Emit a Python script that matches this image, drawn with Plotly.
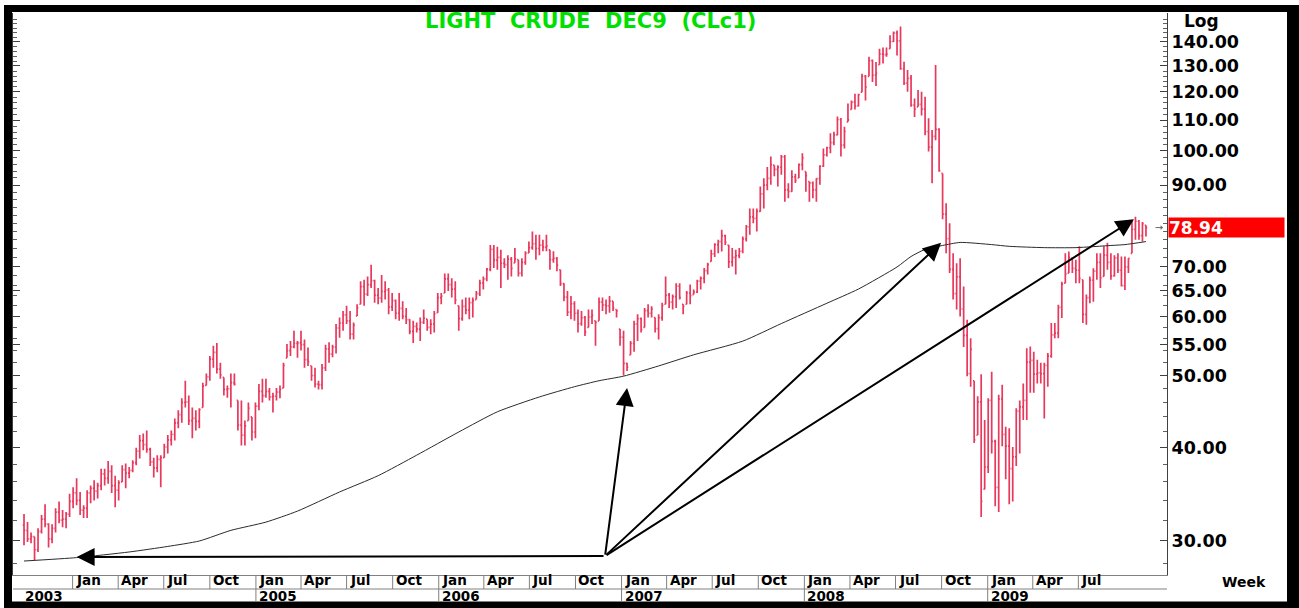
import math
import pandas as pd
import plotly.graph_objects as go

# ---------------- data (weekly bars) ----------------
first_week = "2003-09-26"
n_weeks = 321

opens = [
    31.5, 31.0, 30.2, 30.4, 29.2, 30.9, 32.1, 31.6, 30.2, 31.2,
    32.8, 32.0, 32.1, 32.6, 33.9, 34.8, 34.0, 33.0, 33.2, 34.8,
    35.3, 35.0, 35.6, 36.9, 36.4, 37.2, 35.6, 35.1, 36.0, 37.4,
    37.0, 37.3, 38.2, 39.6, 40.9, 40.4, 39.8, 38.3, 37.6, 38.6,
    38.8, 40.1, 41.0, 41.7, 43.2, 44.3, 46.0, 46.1, 43.5, 43.8,
    43.4, 45.3, 48.5, 49.8, 52.6, 53.7, 51.0, 49.7, 47.9, 48.0,
    48.9, 46.3, 42.9, 41.6, 43.5, 44.0, 42.0, 45.5, 47.6, 47.0,
    47.6, 46.8, 46.9, 47.5, 48.1, 52.8, 54.0, 54.6, 55.2, 55.3,
    55.0, 52.5, 51.5, 50.0, 48.7, 48.6, 51.2, 54.3, 53.4, 54.6,
    57.9, 58.8, 60.3, 59.2, 56.8, 60.1, 62.3, 65.8, 64.3, 66.2,
    67.0, 64.1, 63.5, 64.8, 65.1, 61.8, 63.0, 60.6, 61.5, 60.0,
    59.4, 57.3, 58.2, 57.7, 58.9, 59.5, 58.0, 58.6, 60.7, 63.6,
    64.5, 67.4, 66.2, 65.3, 62.0, 59.6, 61.9, 61.2, 62.6, 63.2,
    64.4, 66.5, 67.4, 69.4, 73.8, 71.4, 72.0, 70.7, 70.4, 71.6,
    70.8, 71.5, 68.6, 70.9, 73.0, 74.2, 75.1, 74.0, 74.8, 74.3,
    73.7, 71.5, 71.8, 69.3, 66.4, 63.7, 60.8, 62.4, 60.6, 58.7,
    59.8, 58.0, 59.9, 59.2, 59.2, 62.7, 62.2, 62.0, 62.9, 61.3,
    57.7, 56.3, 51.9, 53.3, 55.2, 58.6, 59.6, 58.0, 61.1, 60.6,
    59.8, 57.8, 59.8, 62.3, 64.1, 62.7, 63.8, 65.9, 62.3, 62.3,
    64.5, 64.2, 64.7, 66.9, 67.5, 69.1, 71.1, 72.8, 74.9, 75.6,
    77.0, 74.8, 71.0, 72.0, 72.4, 73.4, 76.2, 79.1, 81.6, 81.2,
    83.0, 87.6, 90.0, 91.9, 95.7, 94.5, 95.1, 98.2, 88.7, 88.3,
    92.3, 92.0, 95.9, 93.8, 91.0, 90.6, 88.7, 91.8, 95.4, 98.8,
    101.0, 102.6, 105.1, 110.2, 101.8, 109.4, 113.7, 116.3, 114.9, 119.9,
    125.9, 125.9, 132.2, 126.4, 130.5, 134.9, 134.6, 137.1, 140.2, 143.9,
    140.5, 128.9, 123.3, 125.1, 115.2, 114.6, 115.5, 113.8, 106.2, 101.2,
    104.6, 106.9, 93.3, 82.3, 76.3, 69.4, 64.4, 67.8, 61.4, 56.6,
    50.3, 49.2, 41.6, 46.1, 35.2, 37.7, 46.3, 40.8, 35.4, 46.5,
    41.7, 40.2, 37.5, 38.9, 44.8, 45.4, 46.3, 52.1, 52.4, 50.2,
    50.4, 50.3, 51.6, 53.1, 56.7, 57.0, 61.7, 66.5, 68.6, 71.8,
    69.6, 69.2, 67.2, 60.4, 63.6, 67.1, 69.0, 70.9, 67.9, 72.5,
    70.9, 68.0, 71.9, 69.2, 66.0, 69.9, 72.9, 78.5, 80.5, 77.0,
    79.5,
]

highs = [
    32.6, 31.8, 30.8, 30.4, 31.2, 32.5, 33.6, 31.7, 31.6, 33.2,
    33.9, 33.0, 32.8, 34.7, 35.4, 36.4, 34.9, 33.5, 35.1, 35.6,
    36.2, 35.9, 37.5, 37.5, 38.4, 37.9, 36.7, 36.2, 37.9, 38.1,
    37.7, 38.5, 40.0, 41.6, 41.8, 42.2, 40.0, 38.8, 39.1, 39.1,
    40.5, 41.6, 42.2, 43.8, 44.9, 46.6, 49.2, 47.0, 45.3, 44.9,
    45.2, 48.9, 50.3, 53.1, 54.8, 55.3, 52.0, 49.7, 48.5, 50.3,
    50.3, 46.3, 46.3, 43.5, 46.0, 44.0, 46.0, 48.7, 49.5, 49.5,
    48.1, 47.4, 48.1, 48.5, 52.0, 55.1, 55.6, 57.4, 55.6, 57.4,
    55.9, 54.5, 51.5, 51.2, 49.2, 51.8, 55.0, 55.4, 55.0, 58.6,
    59.8, 61.0, 62.0, 61.0, 58.9, 62.3, 66.9, 67.2, 67.9, 70.4,
    67.2, 65.5, 68.2, 66.9, 65.5, 64.5, 63.2, 64.5, 62.9, 61.6,
    59.5, 59.2, 58.9, 59.8, 61.3, 59.5, 59.5, 61.0, 64.5, 64.5,
    68.5, 68.5, 67.5, 66.9, 62.0, 63.2, 63.6, 63.6, 63.6, 64.9,
    67.2, 67.9, 69.7, 74.8, 74.8, 74.4, 73.7, 71.8, 72.5, 72.1,
    74.1, 71.5, 71.8, 73.4, 75.6, 78.0, 77.2, 77.2, 76.0, 77.2,
    73.7, 73.4, 72.1, 69.3, 66.5, 64.9, 63.9, 62.9, 61.3, 61.0,
    60.1, 61.3, 61.3, 59.2, 63.6, 63.6, 63.2, 63.9, 62.9, 61.3,
    57.7, 57.4, 52.0, 55.6, 59.2, 60.4, 59.8, 61.6, 62.3, 61.9,
    59.8, 60.4, 62.6, 67.9, 64.5, 64.2, 66.5, 66.5, 62.3, 64.9,
    66.2, 65.2, 67.2, 67.9, 69.7, 70.8, 73.7, 75.2, 76.0, 78.4,
    77.2, 74.8, 74.1, 73.7, 74.1, 76.8, 79.6, 83.7, 83.7, 83.7,
    89.6, 91.9, 95.2, 98.3, 95.7, 95.7, 98.8, 98.8, 90.5, 94.2,
    93.2, 96.2, 99.3, 93.8, 91.0, 91.0, 91.9, 95.7, 100.8, 101.3,
    105.6, 106.1, 111.2, 110.7, 107.8, 115.8, 116.9, 119.3, 119.3, 126.9,
    126.4, 133.8, 132.6, 131.6, 137.1, 137.6, 137.6, 142.9, 144.6, 145.1,
    146.8, 131.7, 128.4, 126.4, 117.6, 120.7, 120.1, 118.2, 110.6, 106.7,
    130.4, 107.3, 93.3, 85.1, 80.0, 72.9, 70.7, 71.8, 65.8, 59.4,
    56.1, 49.2, 46.9, 50.2, 43.6, 46.6, 50.6, 41.0, 47.1, 48.6,
    42.7, 42.5, 40.1, 45.2, 46.3, 48.8, 54.4, 54.7, 53.8, 52.5,
    52.0, 52.0, 53.6, 58.8, 58.8, 62.2, 66.8, 72.9, 73.3, 71.8,
    71.5, 74.5, 67.2, 64.2, 67.9, 69.6, 72.9, 72.9, 74.5, 75.3,
    72.9, 72.5, 72.9, 72.2, 72.2, 71.8, 80.8, 81.6, 80.8, 80.3,
    79.5,
]

lows = [
    29.6, 29.9, 29.8, 28.3, 29.0, 30.7, 31.3, 29.4, 29.8, 30.8,
    31.7, 31.3, 31.2, 32.3, 33.2, 33.5, 32.5, 32.2, 32.2, 33.7,
    34.0, 34.2, 35.1, 35.6, 35.8, 34.8, 33.3, 34.0, 36.0, 35.3,
    36.4, 37.1, 37.9, 38.7, 39.7, 39.4, 37.8, 36.5, 37.1, 35.4,
    38.8, 39.3, 40.3, 40.9, 42.5, 43.2, 45.3, 42.9, 41.2, 42.2,
    42.5, 45.3, 48.5, 49.2, 51.2, 50.3, 49.5, 47.0, 46.7, 45.3,
    48.5, 42.2, 40.3, 40.3, 43.5, 40.9, 41.2, 44.9, 46.0, 46.7,
    46.3, 44.6, 46.3, 46.6, 48.1, 52.8, 53.1, 54.4, 52.8, 54.0,
    51.2, 51.5, 49.2, 48.2, 47.9, 47.9, 50.7, 52.0, 52.9, 53.5,
    56.2, 57.4, 58.6, 55.9, 55.9, 60.1, 62.3, 62.0, 63.9, 65.5,
    62.6, 62.3, 62.6, 63.2, 60.4, 61.0, 59.5, 59.2, 59.5, 58.6,
    56.8, 55.3, 57.1, 55.6, 58.6, 57.4, 56.8, 57.1, 60.7, 62.3,
    64.5, 64.9, 63.6, 62.3, 57.4, 59.2, 60.4, 59.5, 59.8, 63.2,
    63.9, 65.2, 66.9, 69.0, 69.7, 69.3, 65.5, 69.7, 67.2, 67.9,
    70.8, 67.9, 67.9, 70.4, 73.0, 73.7, 71.5, 72.5, 73.4, 73.4,
    69.3, 70.8, 69.0, 65.9, 62.9, 60.1, 59.5, 59.2, 57.1, 58.3,
    56.5, 58.0, 58.6, 54.8, 59.2, 61.0, 60.4, 60.7, 61.0, 59.8,
    54.8, 50.0, 50.7, 53.3, 53.8, 55.6, 57.1, 58.0, 59.8, 59.8,
    57.1, 55.9, 59.2, 62.3, 61.6, 61.3, 61.6, 63.2, 60.4, 62.3,
    62.3, 64.2, 64.5, 65.2, 66.5, 68.3, 71.1, 72.1, 72.9, 73.3,
    74.8, 69.7, 70.0, 68.3, 71.8, 72.9, 75.6, 77.2, 80.0, 78.0,
    82.9, 83.7, 88.6, 90.1, 92.5, 89.6, 92.9, 85.5, 86.4, 88.2,
    90.6, 92.0, 94.2, 88.2, 85.5, 86.4, 85.5, 90.1, 95.2, 98.3,
    99.3, 101.8, 105.0, 98.3, 100.8, 109.4, 113.7, 113.7, 114.7, 119.9,
    116.9, 125.9, 123.7, 122.2, 130.5, 131.0, 133.8, 137.1, 140.0, 134.3,
    128.5, 122.6, 120.1, 114.6, 111.1, 114.6, 111.6, 105.0, 99.8, 90.5,
    103.4, 93.8, 81.0, 72.9, 68.6, 63.2, 61.3, 60.0, 54.6, 49.9,
    48.3, 40.6, 41.6, 32.3, 35.2, 37.0, 39.3, 33.4, 32.8, 40.2,
    36.3, 33.6, 33.9, 37.8, 39.3, 43.6, 43.6, 47.4, 47.4, 48.8,
    48.8, 43.8, 48.3, 52.8, 56.1, 56.1, 59.7, 66.5, 68.6, 68.6,
    66.5, 66.5, 58.8, 58.5, 62.5, 62.8, 67.2, 65.5, 67.9, 69.3,
    67.2, 67.9, 68.6, 65.8, 65.1, 68.6, 72.9, 76.0, 76.0, 75.6,
    76.8,
]

closes = [
    31.0, 30.2, 30.4, 29.2, 30.9, 32.1, 31.6, 30.2, 31.2, 32.8,
    32.0, 32.1, 32.6, 33.9, 34.8, 34.0, 33.0, 33.2, 34.8, 35.3,
    35.0, 35.6, 36.9, 36.4, 37.2, 35.6, 35.1, 35.9, 37.4, 37.0,
    37.3, 38.2, 39.6, 40.9, 40.4, 39.8, 38.3, 37.6, 38.6, 38.8,
    40.1, 41.0, 41.7, 43.2, 44.3, 46.0, 46.1, 43.5, 43.8, 43.4,
    45.0, 48.4, 49.8, 52.6, 53.7, 51.0, 50.1, 47.9, 48.0, 48.9,
    48.7, 42.9, 41.6, 42.8, 45.2, 42.0, 45.5, 47.6, 47.0, 47.6,
    46.8, 46.9, 47.5, 47.9, 51.6, 54.0, 54.6, 55.2, 55.3, 55.0,
    52.5, 52.2, 50.0, 48.7, 48.6, 51.2, 54.3, 53.4, 54.6, 57.9,
    58.8, 60.3, 59.2, 56.8, 58.4, 61.6, 65.8, 64.3, 66.2, 67.0,
    64.1, 63.5, 64.8, 65.1, 61.8, 63.0, 60.6, 61.5, 60.0, 59.4,
    57.3, 58.2, 57.7, 58.9, 59.7, 58.0, 58.6, 60.5, 63.6, 63.9,
    67.4, 66.2, 65.3, 63.1, 59.6, 61.9, 61.2, 62.6, 63.0, 64.4,
    66.5, 67.4, 69.4, 73.8, 71.4, 72.0, 70.7, 70.4, 71.6, 69.6,
    71.7, 68.6, 70.9, 72.9, 74.2, 75.1, 74.0, 74.8, 74.3, 74.6,
    71.5, 71.8, 70.3, 66.4, 63.7, 60.8, 62.4, 60.6, 58.7, 59.8,
    57.2, 59.9, 60.2, 58.9, 62.7, 62.2, 62.0, 62.9, 61.6, 61.1,
    56.3, 51.9, 51.3, 55.2, 58.6, 59.6, 57.6, 61.1, 60.6, 61.4,
    57.8, 59.8, 62.1, 64.1, 62.7, 63.8, 65.9, 63.6, 61.9, 64.5,
    64.0, 64.7, 66.9, 67.5, 69.1, 70.4, 72.8, 74.9, 75.6, 77.0,
    75.4, 71.0, 72.0, 72.4, 73.4, 76.2, 79.1, 81.6, 81.2, 83.0,
    87.6, 90.0, 91.9, 95.9, 94.5, 95.1, 98.2, 88.7, 88.3, 92.3,
    91.3, 95.9, 97.9, 92.7, 90.6, 88.7, 91.8, 95.4, 98.8, 101.0,
    102.6, 105.1, 110.2, 101.8, 106.2, 110.1, 116.3, 114.9, 119.0, 125.9,
    121.8, 132.2, 126.4, 127.1, 134.9, 134.6, 134.9, 140.2, 143.9, 140.5,
    128.9, 123.3, 125.1, 115.2, 113.8, 115.5, 113.8, 106.2, 101.2, 104.6,
    106.9, 94.1, 82.3, 76.3, 69.4, 64.4, 67.8, 61.4, 56.6, 50.3,
    54.2, 41.0, 46.1, 33.9, 37.7, 46.3, 40.8, 35.4, 46.5, 41.7,
    40.2, 37.5, 38.9, 44.8, 45.4, 46.3, 52.1, 52.4, 50.2, 50.4,
    50.3, 51.6, 53.1, 56.7, 57.0, 61.7, 66.3, 68.4, 72.0, 69.6,
    69.2, 67.5, 60.4, 63.6, 67.1, 69.0, 70.9, 67.6, 72.5, 70.9,
    68.0, 71.9, 69.2, 66.0, 69.9, 71.8, 78.5, 80.5, 77.0, 79.9,
    78.94,
]

# long moving average, read at points along the curve (week index, price)
ma_week = [0, 15, 30, 41, 50, 59, 69, 78, 90, 101, 112, 124, 135, 147, 157,
           164, 171, 181, 191, 205, 216, 229, 238, 249, 253, 257, 262, 267,
           276, 281, 291, 300, 310, 314, 320]
ma_value = [28.2, 28.5, 29.0, 29.5, 30.0, 31.0, 31.8, 32.9, 34.9, 36.7, 39.1,
            42.0, 44.7, 46.8, 48.3, 49.2, 49.9, 51.5, 53.3, 55.6, 58.7, 62.5,
            65.3, 69.9, 72.2, 73.8, 74.7, 75.4, 74.9, 74.5, 74.2, 74.2, 74.7,
            74.9, 75.6]

# arrows: common tail and four heads (date, price)
arrow_tail = ("2006-11-29", 28.64)
arrow_heads = [("2004-01-09", 28.55), ("2007-01-12", 48.1),
               ("2008-09-30", 75.3), ("2009-10-20", 81.0)]

last_price = 78.94

price_ticks = [30, 40, 50, 55, 60, 65, 70, 90, 100, 110, 120, 130, 140]
price_tick_text = ["30.00", "40.00", "50.00", "55.00", "60.00", "65.00", "70.00",
                   "90.00", "100.00", "110.00", "120.00", "130.00", "140.00"]
minor_ticks = list(range(28, 152, 2))

month_dates = ["2004-01-01", "2004-04-01", "2004-07-01", "2004-10-01",
               "2005-01-01", "2005-04-01", "2005-07-01", "2005-10-01",
               "2006-01-01", "2006-04-01", "2006-07-01", "2006-10-01",
               "2007-01-01", "2007-04-01", "2007-07-01", "2007-10-01",
               "2008-01-01", "2008-04-01", "2008-07-01", "2008-10-01",
               "2009-01-01", "2009-04-01", "2009-07-01"]
month_names = ["Jan", "Apr", "Jul", "Oct"] * 5 + ["Jan", "Apr", "Jul"]
year_dates = ["2005-01-01", "2006-01-01", "2007-01-01", "2008-01-01", "2009-01-01"]
year_names = ["2005", "2006", "2007", "2008", "2009"]

x_range = ["2003-09-04", "2009-12-25"]
y_range = [math.log10(27.01), math.log10(153.1)]

assert len(opens) == len(highs) == len(lows) == len(closes) == n_weeks
assert len(ma_week) == len(ma_value)

weeks = pd.date_range(first_week, periods=n_weeks, freq="7D")

# ---------------- figure ----------------
W, H = 1299, 608
L, R, T, B = 13, 132, 13, 33
pw, ph = W - L - R, H - T - B


def px_x(px):
    return (px - L) / pw


def px_y(py):
    return (H - B - py) / ph


bar_color = "#e8385c"
fig = go.Figure()
fig.add_trace(go.Ohlc(
    x=weeks, open=opens, high=highs, low=lows, close=closes,
    increasing=dict(line=dict(color=bar_color, width=1.7)),
    decreasing=dict(line=dict(color=bar_color, width=1.7)),
    tickwidth=0.35, showlegend=False, hoverinfo="skip",
))
fig.add_trace(go.Scatter(
    x=[weeks[i] for i in ma_week], y=ma_value, mode="lines",
    line=dict(color="#2a2a2a", width=1, shape="spline", smoothing=0.6),
    showlegend=False, hoverinfo="skip",
))

shapes = []
annotations = []

# arrows
for hx, hy in arrow_heads:
    annotations.append(dict(
        x=hx, y=math.log10(hy), xref="x", yref="y",
        ax=arrow_tail[0], ay=math.log10(arrow_tail[1]), axref="x", ayref="y",
        text="", showarrow=True, arrowhead=2, arrowsize=1.8, arrowwidth=2,
        arrowcolor="black", standoff=0, startstandoff=0,
    ))

# title and labels
annotations.append(dict(
    x=px_x(590), y=px_y(21), xref="paper", yref="paper",
    text="LIGHT  CRUDE  DEC9  (CLc1)", showarrow=False,
    xanchor="center", yanchor="middle",
    font=dict(family="DejaVu Sans", size=21, color="#00e000", weight="bold"),
))
annotations.append(dict(
    x=px_x(1182), y=px_y(21), xref="paper", yref="paper", text="Log",
    showarrow=False, xanchor="left", yanchor="middle",
    font=dict(family="DejaVu Sans", size=17, color="black", weight="bold"),
))
annotations.append(dict(
    x=px_x(1244), y=px_y(582), xref="paper", yref="paper", text="Week",
    showarrow=False, xanchor="center", yanchor="middle",
    font=dict(family="DejaVu Sans", size=14, color="black", weight="bold"),
))
# last price box
annotations.append(dict(
    x=px_x(1168), y=math.log10(last_price), xref="paper", yref="y",
    text=f"{last_price:.2f}", showarrow=False, xanchor="left", yanchor="middle",
    bgcolor="#ff0000", width=115, height=19, align="left", borderpad=0,
    font=dict(family="DejaVu Sans", size=17, color="white", weight="bold"),
))
annotations.append(dict(
    x=px_x(1163), y=math.log10(last_price), xref="paper", yref="y",
    text="", showarrow=True, ax=-9, ay=0, arrowhead=1, arrowsize=0.8,
    arrowwidth=1, arrowcolor="#666666",
))

# month row
row1_top, row1_bot, row2_bot = px_y(575), px_y(589), px_y(601)
label_font = dict(family="DejaVu Sans", size=13.5, color="black", weight="bold")
for d, name in zip(month_dates, month_names):
    shapes.append(dict(type="line", xref="x", yref="paper", x0=d, x1=d,
                       y0=row1_top, y1=row1_bot, line=dict(color="#808080", width=1)))
    annotations.append(dict(
        x=d, y=px_y(580.3), xref="x", yref="paper", text=name, showarrow=False,
        xanchor="left", yanchor="middle", xshift=1, font=label_font,
    ))
# year row
for d, name in zip(year_dates, year_names):
    shapes.append(dict(type="line", xref="x", yref="paper", x0=d, x1=d,
                       y0=row1_bot, y1=row2_bot, line=dict(color="#808080", width=1)))
    annotations.append(dict(
        x=d, y=px_y(595.6), xref="x", yref="paper", text=name, showarrow=False,
        xanchor="left", yanchor="middle", xshift=1, font=label_font,
    ))
annotations.append(dict(
    x=px_x(23), y=px_y(595.6), xref="paper", yref="paper", text="2003",
    showarrow=False, xanchor="left", yanchor="middle", font=label_font,
))
shapes.append(dict(type="line", xref="paper", yref="paper", x0=0, x1=1,
                   y0=row1_bot, y1=row1_bot, line=dict(color="#808080", width=1)))

# black frame
black = dict(color="black", width=0)
shapes += [
    dict(type="rect", xref="paper", yref="paper", x0=px_x(4), x1=px_x(1299),
         y0=px_y(12), y1=px_y(5), fillcolor="black", line=black, layer="above"),
    dict(type="rect", xref="paper", yref="paper", x0=px_x(4), x1=px_x(12),
         y0=px_y(608), y1=px_y(5), fillcolor="black", line=black, layer="above"),
    dict(type="rect", xref="paper", yref="paper", x0=px_x(1287), x1=px_x(1299),
         y0=px_y(608), y1=px_y(5), fillcolor="black", line=black, layer="above"),
    dict(type="rect", xref="paper", yref="paper", x0=px_x(4), x1=px_x(1299),
         y0=px_y(608), y1=px_y(601.5), fillcolor="black", line=black, layer="above"),
]

fig.update_layout(
    width=W, height=H,
    margin=dict(l=L, r=R, t=T, b=B, pad=0),
    paper_bgcolor="white", plot_bgcolor="white",
    showlegend=False, hovermode=False,
    shapes=shapes, annotations=annotations,
    xaxis=dict(
        type="date", range=x_range, showticklabels=False, ticks="",
        showgrid=False, zeroline=False, showline=True, linecolor="#808080",
        linewidth=1, rangeslider=dict(visible=False), automargin=False,
    ),
    yaxis=dict(
        type="log", range=y_range, side="right",
        tickmode="array", tickvals=price_ticks, ticktext=price_tick_text,
        ticks="inside", ticklen=7, tickwidth=1, tickcolor="#404040",
        showline=True, linecolor="#404040", linewidth=1, mirror="ticks",
        showgrid=False, zeroline=False, automargin=False,
        tickfont=dict(family="DejaVu Sans", size=17.5, color="black", weight="bold"),
        minor=dict(tickvals=minor_ticks, ticks="inside", ticklen=4,
                   tickcolor="#606060", showgrid=False),
    ),
)

fig.write_html(
    "out.html",
    config={"displayModeBar": False},
    post_script=("document.body.style.margin='0px';"
                 "document.body.style.padding='0px';"
                 "document.documentElement.style.overflow='hidden';"),
)
